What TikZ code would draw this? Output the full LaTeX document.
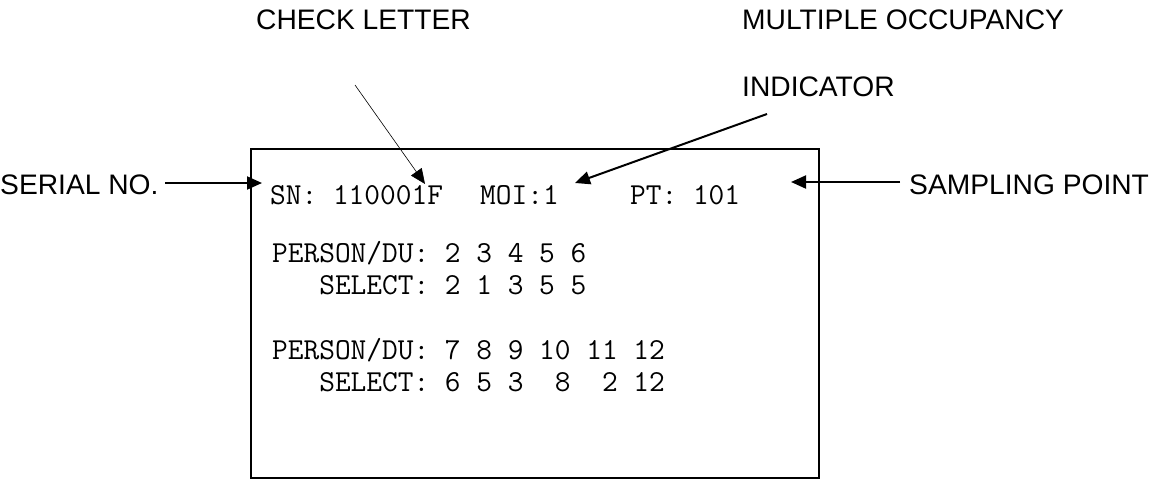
\documentclass[tikz,border=0pt]{standalone}
\usepackage{fontspec}
\setmainfont{Liberation Sans}
\usetikzlibrary{arrows.meta}
\tikzset{
  lbl/.style={font=\fontsize{28.2}{30}\selectfont, inner sep=0pt, anchor=base west},
  mono/.style={font=\fontsize{30.5}{31}\selectfont\ttfamily, inner sep=0pt, anchor=base west},
  thickarrow/.style={line width=2pt, -{Triangle[length=15pt,width=13pt]}},
  thinarrow/.style={line width=0.6pt, -{Triangle[length=15pt,width=13pt]}},
  frame/.style={line width=2pt}
}
\begin{document}
\begin{tikzpicture}[x=1pt,y=-1pt]
\useasboundingbox (0,0) rectangle (1155,479);
% screen frame
\draw[frame] (251,149) rectangle (819,478);
% labels
\node[lbl] (check) at (256,29) {CHECK LETTER};
\node[lbl] (moc) at (742,29) {MULTIPLE OCCUPANCY};
\node[lbl] (ind) at (742,96) {INDICATOR};
\node[lbl] (serial) at (0,194) {SERIAL NO.};
\node[lbl] (samp) at (909,194) {SAMPLING POINT};
% screen text
\node[mono] (sn) at (270,204) {SN: 110001F};
\node[mono] (moi) at (480,204) {MOI:1};
\node[mono] (pt) at (630,204) {PT: 101};
\node[mono] (p1) at (272,262) {PERSON/DU: 2 3 4 5 6};
\node[mono] (s1) at (272,294) {~~~SELECT: 2 1 3 5 5};
\node[mono] (p2) at (272,359) {PERSON/DU: 7 8 9 10 11 12};
\node[mono] (s2) at (272,391) {~~~SELECT: 6 5 3~~8~~2 12};
% connector ends
\coordinate (serialE) at (165,183);
\coordinate (snW) at (262,183);
\coordinate (sampW) at (900,182);
\coordinate (ptE) at (791,182);
\coordinate (checkS) at (355,85);
\coordinate (snF) at (425,184);
\coordinate (indS) at (767,114);
\coordinate (moiE) at (575,183);
% connectors
\draw[thickarrow] (serialE) -- (snW);
\draw[thickarrow] (sampW) -- (ptE);
\draw[thinarrow] (checkS) -- (snF);
\draw[thickarrow] (indS) -- (moiE);
\end{tikzpicture}
\end{document}
